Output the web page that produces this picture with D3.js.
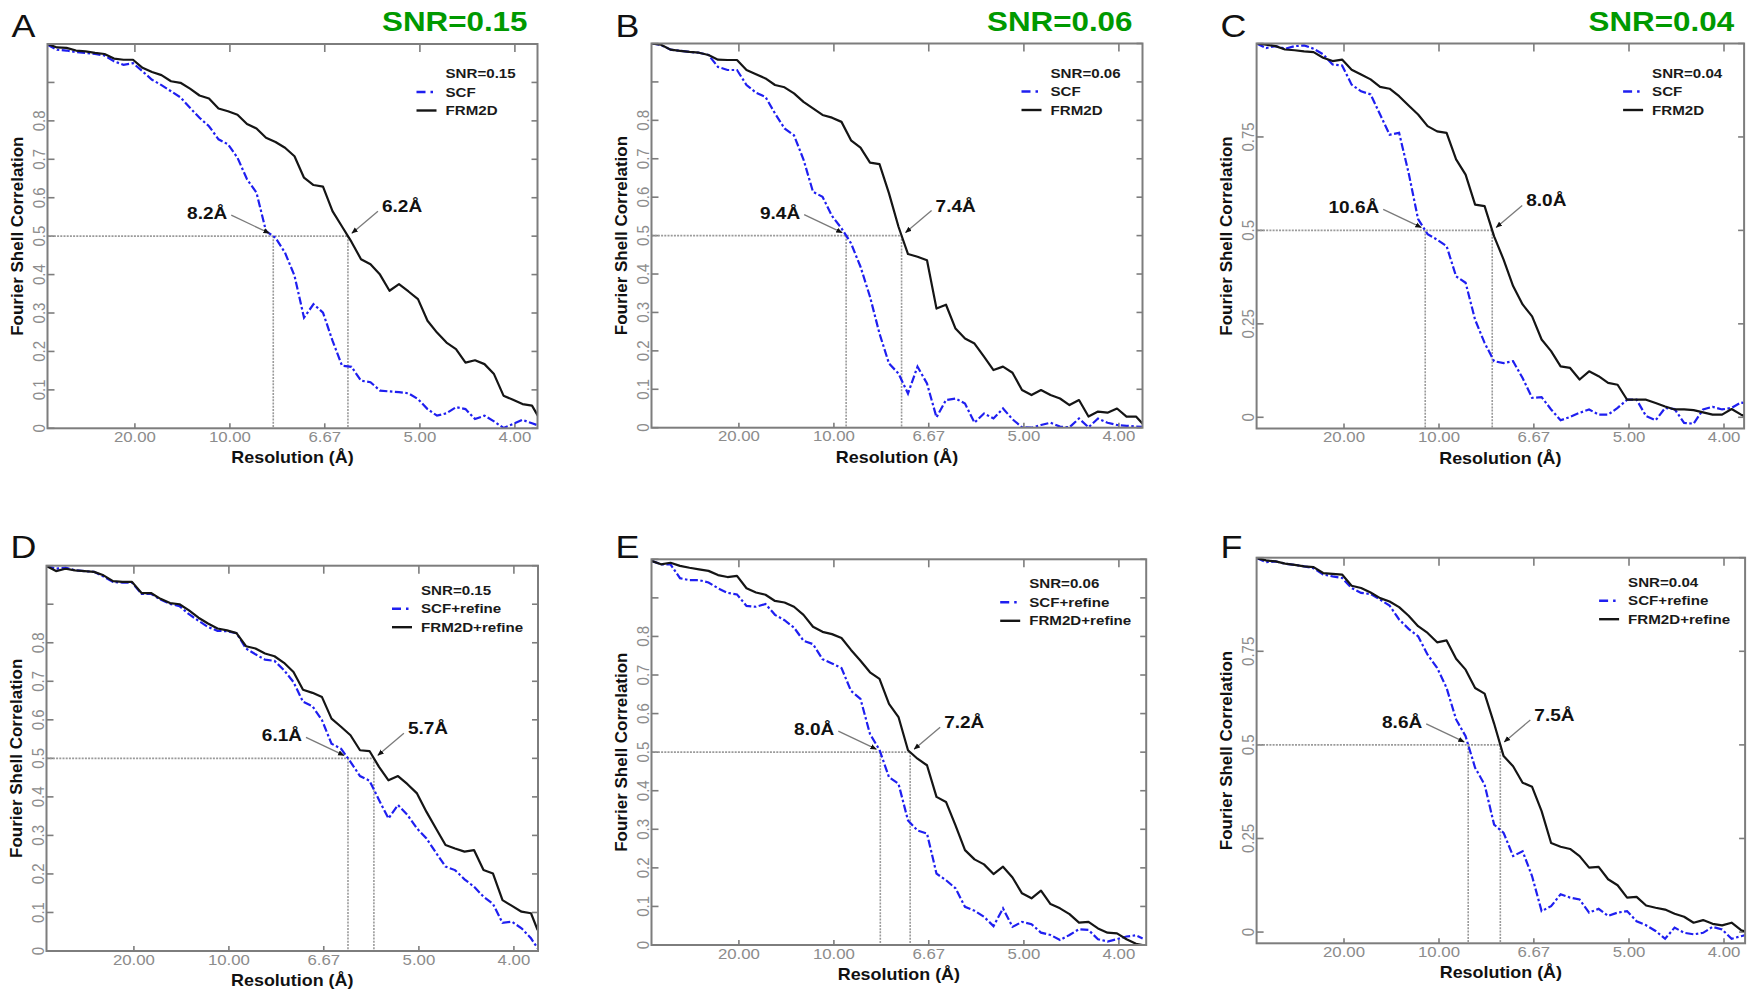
<!DOCTYPE html>
<html>
<head>
<meta charset="utf-8">
<script src="https://d3js.org/d3.v7.min.js"></script>
<style>
  body { margin: 0; background: #fff; }
  svg { display: block; font-family: "Liberation Sans", Arial, sans-serif; }
</style>
</head>
<body>
<div id="chart"></div>
<script>
// spatial frequency of each Fourier shell (1/Å)
const freq = [0.004, 0.009, 0.014, 0.019, 0.024, 0.029, 0.034, 0.039, 0.044, 0.049,
  0.054, 0.059, 0.064, 0.069, 0.074, 0.079, 0.084, 0.089, 0.094, 0.099,
  0.104, 0.109, 0.114, 0.119, 0.124, 0.129, 0.134, 0.139, 0.144, 0.149,
  0.154, 0.159, 0.164, 0.169, 0.174, 0.179, 0.184, 0.189, 0.194, 0.199,
  0.204, 0.209, 0.214, 0.219, 0.224, 0.229, 0.234, 0.239, 0.244, 0.249,
  0.254, 0.259, 0.2625];

const xTickRes = [20, 10, 6.67, 5, 4];
const xTickLabels = ["20.00", "10.00", "6.67", "5.00", "4.00"];
const yTicksTenth = [0, 0.1, 0.2, 0.3, 0.4, 0.5, 0.6, 0.7, 0.8, 0.9, 1];
const yLabelsTenth = ["0", "0.1", "0.2", "0.3", "0.4", "0.5", "0.6", "0.7", "0.8", "", ""];
const yTicksQuarter = [0, 0.25, 0.5, 0.75, 1];
const yLabelsQuarter = ["0", "0.25", "0.5", "0.75", ""];

const panelNames = ["A", "B", "C", "D", "E", "F"];
const snrValues = ["0.15", "0.06", "0.04", "0.15", "0.06", "0.04"];
const scfNames = ["SCF", "SCF", "SCF", "SCF+refine", "SCF+refine", "SCF+refine"];
const frmNames = ["FRM2D", "FRM2D", "FRM2D", "FRM2D+refine", "FRM2D+refine", "FRM2D+refine"];
const scfRes = [8.2, 9.4, 10.6, 6.1, 8.0, 8.6];
const frmRes = [6.2, 7.4, 8.0, 5.7, 7.2, 7.5];

// FSC curves, one value per shell
const scfA = [0.998, 0.985, 0.983, 0.979, 0.977, 0.974, 0.97, 0.955, 0.946, 0.95,
  0.929, 0.907, 0.893, 0.877, 0.861, 0.834, 0.808, 0.786, 0.752, 0.739,
  0.704, 0.648, 0.613, 0.513, 0.496, 0.457, 0.397, 0.288, 0.323, 0.301,
  0.228, 0.163, 0.16, 0.124, 0.12, 0.098, 0.096, 0.094, 0.091, 0.076,
  0.05, 0.033, 0.039, 0.055, 0.05, 0.024, 0.033, 0.018, 0.001, 0.011,
  0.022, 0.013, 0.007];
const frmA = [1.0, 0.991, 0.99, 0.983, 0.981, 0.977, 0.974, 0.962, 0.959, 0.959,
  0.938, 0.927, 0.919, 0.903, 0.899, 0.884, 0.866, 0.858, 0.832, 0.825,
  0.816, 0.792, 0.78, 0.756, 0.745, 0.73, 0.708, 0.652, 0.633, 0.629,
  0.565, 0.525, 0.485, 0.44, 0.427, 0.4, 0.358, 0.375, 0.356, 0.336,
  0.28, 0.249, 0.223, 0.206, 0.171, 0.177, 0.167, 0.141, 0.085, 0.074,
  0.063, 0.059, 0.029];
const scfB = [1.0, 0.996, 0.984, 0.981, 0.978, 0.976, 0.97, 0.939, 0.931, 0.931,
  0.892, 0.872, 0.861, 0.818, 0.779, 0.761, 0.698, 0.614, 0.601, 0.551,
  0.519, 0.48, 0.419, 0.341, 0.245, 0.167, 0.141, 0.089, 0.159, 0.115,
  0.027, 0.072, 0.076, 0.063, 0.013, 0.037, 0.024, 0.05, 0.022, 0.001,
  0.0, 0.007, 0.013, 0.003, 0.001, 0.024, 0.001, 0.024, 0.013, 0.007,
  0.005, 0.003, 0.002];
const frmB = [1.0, 0.997, 0.984, 0.981, 0.978, 0.976, 0.97, 0.958, 0.957, 0.957,
  0.931, 0.92, 0.909, 0.892, 0.886, 0.87, 0.848, 0.831, 0.814, 0.807,
  0.796, 0.748, 0.729, 0.69, 0.686, 0.61, 0.523, 0.452, 0.445, 0.436,
  0.31, 0.32, 0.258, 0.232, 0.219, 0.185, 0.15, 0.159, 0.143, 0.098,
  0.085, 0.098, 0.085, 0.076, 0.059, 0.072, 0.029, 0.042, 0.039, 0.05,
  0.029, 0.029, 0.01];
const scfC = [1.0, 0.988, 0.993, 0.986, 0.993, 0.995, 0.986, 0.971, 0.944, 0.941,
  0.89, 0.872, 0.864, 0.81, 0.756, 0.761, 0.654, 0.53, 0.49, 0.475,
  0.458, 0.377, 0.36, 0.261, 0.199, 0.15, 0.145, 0.15, 0.105, 0.052,
  0.054, 0.021, -0.008, 0.001, 0.012, 0.021, 0.007, 0.007, 0.025, 0.047,
  0.047, 0.003, -0.008, 0.025, 0.022, -0.015, -0.017, 0.021, 0.028, 0.021,
  0.025, 0.04, 0.034];
const frmC = [1.0, 0.997, 0.993, 0.984, 0.982, 0.979, 0.977, 0.962, 0.953, 0.957,
  0.93, 0.917, 0.904, 0.884, 0.879, 0.859, 0.834, 0.81, 0.779, 0.765,
  0.761, 0.69, 0.649, 0.569, 0.565, 0.484, 0.422, 0.351, 0.302, 0.27,
  0.208, 0.177, 0.136, 0.132, 0.101, 0.123, 0.11, 0.092, 0.087, 0.047,
  0.047, 0.047, 0.038, 0.029, 0.021, 0.021, 0.019, 0.013, 0.007, 0.007,
  0.022, 0.007, 0.001];
const scfD = [0.999, 0.992, 0.995, 0.988, 0.986, 0.984, 0.972, 0.958, 0.956, 0.956,
  0.927, 0.927, 0.912, 0.901, 0.895, 0.874, 0.857, 0.841, 0.831, 0.83,
  0.825, 0.785, 0.77, 0.756, 0.753, 0.729, 0.698, 0.647, 0.635, 0.599,
  0.538, 0.525, 0.491, 0.454, 0.442, 0.392, 0.344, 0.379, 0.353, 0.318,
  0.292, 0.255, 0.219, 0.21, 0.186, 0.167, 0.141, 0.122, 0.073, 0.076,
  0.059, 0.033, 0.007];
const frmD = [0.999, 0.986, 0.992, 0.988, 0.986, 0.984, 0.975, 0.96, 0.958, 0.958,
  0.929, 0.929, 0.914, 0.903, 0.9, 0.884, 0.865, 0.85, 0.837, 0.832,
  0.825, 0.791, 0.785, 0.772, 0.765, 0.748, 0.724, 0.678, 0.67, 0.659,
  0.603, 0.582, 0.56, 0.521, 0.519, 0.478, 0.443, 0.454, 0.433, 0.409,
  0.361, 0.318, 0.275, 0.266, 0.258, 0.262, 0.21, 0.201, 0.132, 0.117,
  0.102, 0.098, 0.054];
const scfE = [0.996, 0.987, 0.987, 0.951, 0.946, 0.946, 0.94, 0.925, 0.913, 0.909,
  0.879, 0.877, 0.884, 0.856, 0.842, 0.823, 0.789, 0.78, 0.741, 0.73,
  0.718, 0.659, 0.638, 0.547, 0.506, 0.435, 0.418, 0.323, 0.297, 0.289,
  0.185, 0.168, 0.147, 0.099, 0.089, 0.073, 0.049, 0.095, 0.047, 0.06,
  0.054, 0.032, 0.026, 0.013, 0.026, 0.041, 0.039, 0.015, 0.009, 0.015,
  0.022, 0.025, 0.017];
const frmE = [0.996, 0.987, 0.991, 0.983, 0.978, 0.974, 0.97, 0.959, 0.954, 0.957,
  0.925, 0.914, 0.908, 0.892, 0.888, 0.877, 0.856, 0.825, 0.812, 0.806,
  0.796, 0.765, 0.737, 0.707, 0.69, 0.625, 0.591, 0.505, 0.483, 0.466,
  0.384, 0.371, 0.31, 0.246, 0.222, 0.209, 0.184, 0.203, 0.175, 0.134,
  0.121, 0.141, 0.106, 0.095, 0.08, 0.058, 0.06, 0.043, 0.032, 0.03,
  0.015, 0.003, 0.0];
const scfF = [0.999, 0.988, 0.99, 0.984, 0.981, 0.977, 0.972, 0.955, 0.95, 0.946,
  0.919, 0.906, 0.903, 0.888, 0.872, 0.835, 0.81, 0.79, 0.741, 0.706,
  0.652, 0.568, 0.523, 0.439, 0.394, 0.287, 0.265, 0.203, 0.216, 0.149,
  0.056, 0.069, 0.101, 0.092, 0.087, 0.052, 0.062, 0.043, 0.052, 0.056,
  0.029, 0.018, 0.003, -0.018, 0.012, -0.002, -0.006, -0.002, 0.014, 0.007,
  -0.018, -0.011, -0.006];
const frmF = [0.999, 0.993, 0.99, 0.984, 0.981, 0.977, 0.975, 0.959, 0.957, 0.955,
  0.925, 0.919, 0.907, 0.892, 0.883, 0.868, 0.845, 0.817, 0.799, 0.774,
  0.779, 0.73, 0.701, 0.652, 0.637, 0.557, 0.47, 0.443, 0.399, 0.388,
  0.323, 0.238, 0.228, 0.222, 0.203, 0.172, 0.174, 0.141, 0.125, 0.092,
  0.094, 0.071, 0.065, 0.06, 0.049, 0.041, 0.025, 0.032, 0.022, 0.018,
  0.025, 0.005, 0.0];

const scfSeries = [scfA, scfB, scfC, scfD, scfE, scfF];
const frmSeries = [frmA, frmB, frmC, frmD, frmE, frmF];

// layout of the six plot frames (pixels)
const frames = [
  {left: 47.5, top: 44, width: 490, height: 384.3, quarter: false, row: 0},
  {left: 651.5, top: 43.5, width: 491, height: 384.2, quarter: false, row: 0},
  {left: 1256.6, top: 43.5, width: 487.5, height: 385, quarter: true, row: 0},
  {left: 46.5, top: 565.7, width: 491.5, height: 385.3, quarter: false, row: 1},
  {left: 651.5, top: 559.3, width: 494.7, height: 385.7, quarter: false, row: 1},
  {left: 1256.6, top: 557.7, width: 488.5, height: 385.6, quarter: true, row: 1}
];
const pxPerFreq = 1900;
const stretch = "scale(1.12,1)";
const frameColor = "#7d7d7d";
const tickTextColor = "#8c8c8c";
const blue = "#1f1ff0";

const svg = d3.select("#chart").append("svg")
  .attr("width", 1747)
  .attr("height", 997);

svg.append("rect").attr("width", 1747).attr("height", 997).attr("fill", "#fff");

const defs = svg.append("defs");
defs.append("marker")
  .attr("id", "head")
  .attr("viewBox", "0 0 10 10")
  .attr("refX", 9).attr("refY", 5)
  .attr("markerWidth", 5).attr("markerHeight", 5)
  .attr("orient", "auto")
  .append("path")
  .attr("d", "M0,1L10,5L0,9Z")
  .attr("fill", "#111");

function crossing(vals) {
  for (let i = 1; i < vals.length; i++) {
    if (vals[i] < 0.5 && vals[i - 1] >= 0.5) {
      const t = (vals[i - 1] - 0.5) / (vals[i - 1] - vals[i]);
      return freq[i - 1] + t * (freq[i] - freq[i - 1]);
    }
  }
  return null;
}

function stretchedText(parent, x, y, txt) {
  return parent.append("g")
    .attr("transform", `translate(${x},${y}) ${stretch}`)
    .append("text")
    .text(txt);
}

frames.forEach((fr, p) => {
  const w = fr.width, h = fr.height;
  const x = d3.scaleLinear().domain([0.004, 0.004 + w / pxPerFreq]).range([0, w]);
  const y = d3.scaleLinear().domain(fr.quarter ? [-0.03, 1] : [0, 1]).range([h, 0]);
  const yTicks = fr.quarter ? yTicksQuarter : yTicksTenth;
  const yLabels = fr.quarter ? yLabelsQuarter : yLabelsTenth;

  const g = svg.append("g").attr("transform", `translate(${fr.left},${fr.top})`);

  const clipId = "clip" + p;
  defs.append("clipPath").attr("id", clipId)
    .append("rect").attr("width", w).attr("height", h);

  // ticks (all inward)
  yTicks.forEach(v => {
    g.append("line").attr("x1", 0).attr("x2", 7).attr("y1", y(v)).attr("y2", y(v))
      .attr("stroke", frameColor).attr("stroke-width", 1.6);
    g.append("line").attr("x1", w - 6).attr("x2", w).attr("y1", y(v)).attr("y2", y(v))
      .attr("stroke", frameColor).attr("stroke-width", 1.6);
  });
  xTickRes.forEach(r => {
    g.append("line").attr("x1", x(1 / r)).attr("x2", x(1 / r)).attr("y1", 0).attr("y2", 8)
      .attr("stroke", frameColor).attr("stroke-width", 1.6);
    g.append("line").attr("x1", x(1 / r)).attr("x2", x(1 / r)).attr("y1", h).attr("y2", h - 5)
      .attr("stroke", frameColor).attr("stroke-width", 1.6);
  });

  // tick labels
  xTickRes.forEach((r, i) => {
    stretchedText(g, x(1 / r), h + 13.5, xTickLabels[i])
      .attr("text-anchor", "middle")
      .attr("font-size", 15)
      .attr("fill", tickTextColor);
  });
  yTicks.forEach((v, i) => {
    if (!yLabels[i]) return;
    g.append("g")
      .attr("transform", `translate(-3,${y(v)}) ${stretch} rotate(-90)`)
      .append("text")
      .attr("text-anchor", "middle")
      .attr("font-size", 15)
      .attr("fill", tickTextColor)
      .text(yLabels[i]);
  });

  // axis titles
  stretchedText(g, w / 2, h + 35, "Resolution (Å)")
    .attr("text-anchor", "middle")
    .attr("font-size", 16)
    .attr("font-weight", "bold")
    .attr("fill", "#111");
  g.append("text")
    .attr("transform", `translate(-30,${h / 2}) rotate(-90)`)
    .attr("text-anchor", "middle")
    .attr("dominant-baseline", "central")
    .attr("font-size", 17)
    .attr("font-weight", "bold")
    .attr("fill", "#111")
    .text("Fourier Shell Correlation");

  // 0.5 threshold guides
  const fs = crossing(scfSeries[p]);
  const ff = crossing(frmSeries[p]);
  const xs = x(fs), xf = x(ff), y5 = y(0.5);
  const guide = g.append("g")
    .attr("stroke", "#9a9a9a")
    .attr("stroke-width", 1.6)
    .attr("stroke-dasharray", "2,1.2")
    .attr("fill", "none");
  guide.append("line").attr("x1", 0).attr("x2", Math.max(xs, xf)).attr("y1", y5).attr("y2", y5);
  guide.append("line").attr("x1", xs).attr("x2", xs).attr("y1", y5).attr("y2", h);
  guide.append("line").attr("x1", xf).attr("x2", xf).attr("y1", y5).attr("y2", h);

  // curves
  const line = d3.line().x(d => x(d[0])).y(d => y(d[1]));
  const curves = g.append("g").attr("clip-path", `url(#${clipId})`);
  curves.append("path")
    .datum(freq.map((f, i) => [f, scfSeries[p][i]]))
    .attr("d", line)
    .attr("fill", "none")
    .attr("stroke", blue)
    .attr("stroke-width", 2.2)
    .attr("stroke-dasharray", "8,2.5,2.5,2.5");
  curves.append("path")
    .datum(freq.map((f, i) => [f, frmSeries[p][i]]))
    .attr("d", line)
    .attr("fill", "none")
    .attr("stroke", "#151515")
    .attr("stroke-width", 2.2)
    .attr("stroke-linejoin", "round");

  // frame
  g.append("rect").attr("width", w).attr("height", h)
    .attr("fill", "none").attr("stroke", frameColor).attr("stroke-width", 2);

  // resolution call-outs
  g.append("line")
    .attr("x1", xs - 42).attr("y1", y5 - 21).attr("x2", xs - 4).attr("y2", y5 - 3)
    .attr("stroke", "#7a7a7a").attr("stroke-width", 1.3)
    .attr("marker-end", "url(#head)");
  stretchedText(g, xs - 46, y5 - 17, scfRes[p].toFixed(1) + "Å")
    .attr("text-anchor", "end")
    .attr("font-size", 17)
    .attr("font-weight", "bold")
    .attr("fill", "#111");
  g.append("line")
    .attr("x1", xf + 30).attr("y1", y5 - 25).attr("x2", xf + 4).attr("y2", y5 - 3)
    .attr("stroke", "#7a7a7a").attr("stroke-width", 1.3)
    .attr("marker-end", "url(#head)");
  stretchedText(g, xf + 34, y5 - 24, frmRes[p].toFixed(1) + "Å")
    .attr("text-anchor", "start")
    .attr("font-size", 17)
    .attr("font-weight", "bold")
    .attr("fill", "#111");

  // legend
  const tx = w - (fr.row === 0 ? 92 : 117);
  const ty = fr.row === 0 ? 34 : 29;
  const rowGap = 18.5;
  [("SNR=" + snrValues[p]), scfNames[p], frmNames[p]].forEach((t, i) => {
    stretchedText(g, tx, ty + i * rowGap, t)
      .attr("font-size", 13.5)
      .attr("font-weight", "bold")
      .attr("fill", "#1a1a1a");
  });
  g.append("line")
    .attr("x1", tx - 29).attr("x2", tx - 9)
    .attr("y1", ty + rowGap - 4.5).attr("y2", ty + rowGap - 4.5)
    .attr("stroke", blue).attr("stroke-width", 2.4)
    .attr("stroke-dasharray", "9,5,2.5,10");
  g.append("line")
    .attr("x1", tx - 29).attr("x2", tx - 9)
    .attr("y1", ty + 2 * rowGap - 4.5).attr("y2", ty + 2 * rowGap - 4.5)
    .attr("stroke", "#151515").attr("stroke-width", 2.4);

  // panel letter
  stretchedText(svg, fr.left - 36, fr.row === 0 ? 36.5 : 558, panelNames[p])
    .attr("font-size", 32)
    .attr("fill", "#111");

  // green SNR heading over the top row
  if (fr.row === 0) {
    stretchedText(svg, fr.left + w - 10, 30.5, "SNR=" + snrValues[p])
      .attr("text-anchor", "end")
      .attr("font-size", 28)
      .attr("font-weight", "bold")
      .attr("fill", "#009900");
  }
});
</script>
</body>
</html>
